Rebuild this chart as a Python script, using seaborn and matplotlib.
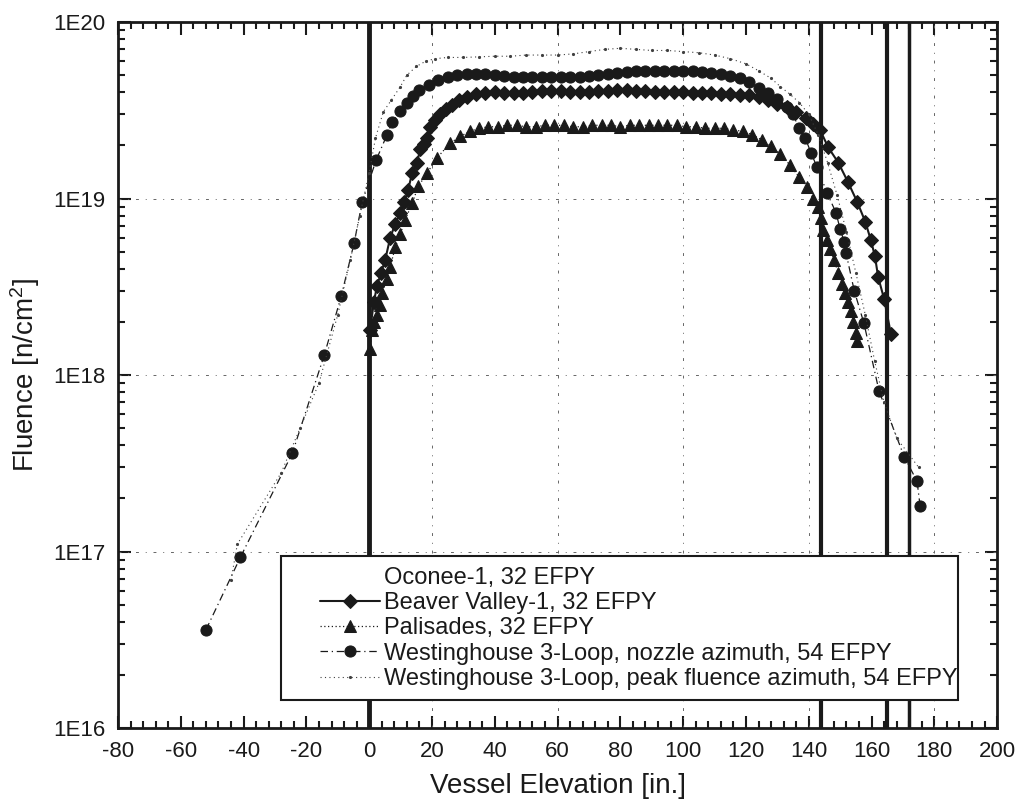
import numpy as np
import seaborn as sns
import matplotlib.pyplot as plt
from matplotlib.lines import Line2D
from matplotlib.legend_handler import HandlerLine2D
from matplotlib.ticker import MultipleLocator, LogLocator, NullFormatter

# Beaver Valley-1, 32 EFPY (diamonds, solid)  -- fluence in units of 1E18
bv_x = [0.3, 1.5, 2.5, 3.8, 5.1, 6.7, 8.3, 9.9, 11.2, 12.4,
        13.7, 15.3, 16.2, 17.4, 18.5, 19.4, 21, 22.6, 24.5, 26.5,
        28.5, 31, 34, 37,
        40, 43, 46, 49, 52, 55, 58, 61, 64, 67,
        70, 73, 76, 79, 82, 85, 88, 91, 94, 97,
        100, 103, 106, 109, 112, 115, 118, 121, 124, 127,
        130, 133, 136, 139,
        141.5, 143.6, 146.2, 149.4, 152.5, 155.4, 158, 159.8, 161.1, 162.1,
        164, 166.2]
bv_y = [1.8, 2.6, 3.2, 3.8, 4.5, 6.0, 7.2, 8.3, 9.6, 11.2,
        14, 16, 19, 20.5, 22, 25.5, 28, 30, 32, 34,
        36, 37.5, 39, 39.5,
        40, 39.5, 39.5, 39.5, 40, 40.5, 40.5, 40.5, 40, 40,
        40, 40.5, 40.5, 41, 41, 40.5, 40.5, 40, 40, 40,
        40, 39.5, 39.5, 39.5, 39, 39, 38.5, 38.5, 37.5, 36,
        34.5, 33, 31, 28.5,
        26.5, 24.5, 19.5, 16, 12.4, 9.6, 7.4, 5.8, 4.7, 3.6,
        2.7, 1.7]

# Palisades, 32 EFPY (triangles)
pal_x = [0.3, 0.8, 1.6, 2.5, 3.3, 4.1, 5.7, 6.7, 8.3, 9.9,
         11.5, 13.7, 15.6, 18.5, 21.6, 25.8, 29, 32, 35, 38,
         41, 44, 47, 50, 53, 56, 59, 62, 65, 68,
         71, 74, 77, 80, 83, 86, 89, 92, 95, 98,
         101, 104, 107, 110, 113, 116, 119, 122, 125, 128,
         131, 134, 137,
         139.5, 141.4, 142.8, 143.8, 144.6, 145.9, 146.8, 148, 149.4, 150.6,
         151.6, 152.5, 153.5, 154.1, 155, 155.4]
pal_y = [1.4, 1.8, 2.0, 2.2, 2.5, 2.9, 3.5, 4.1, 5.3, 6.3,
         7.6, 9.4, 11.7, 14, 17, 20.6, 22.5, 24, 25, 25.5,
         25.5, 26, 26, 25.5, 25.5, 26, 26, 26, 25.5, 25.5,
         26, 26, 26, 25.5, 26, 26, 26, 26, 26, 26,
         25.5, 25.5, 25, 25, 25, 24.5, 24, 23, 21.5, 19.8,
         17.8, 15.5, 13.2,
         11.6, 10, 9.0, 7.8, 6.6, 5.8, 5.2, 4.5, 3.8, 3.3,
         2.9, 2.6, 2.3, 2.0, 1.74, 1.55]

# Westinghouse 3-Loop, nozzle azimuth, 54 EFPY (circles, dash-dot)
noz_x = [-52, -41, -24.5, -14.3, -8.9, -4.8, -2.2, 2.2, 5.7, 7.3,
         9.9, 12, 14, 16, 19, 22, 25, 28, 31, 34,
         37, 40, 43, 46, 49, 52, 55, 58, 61, 64,
         67, 70, 73, 76, 79, 82, 85, 88, 91, 94,
         97, 100, 103, 106, 109, 112, 115, 118, 121, 124,
         127, 130, 133,
         135, 136.9, 138.9, 140.8, 142.7, 145.9, 148.7, 150, 151.3, 151.9,
         154.5, 157.6, 162.4, 170.4, 174.5, 175.5]
noz_y = [0.036, 0.093, 0.36, 1.3, 2.8, 5.6, 9.6, 16.5, 23, 27,
         31.5, 35, 38, 41, 44, 47, 48.5, 50, 50.5, 51,
         51, 50, 49.5, 49, 48.5, 48.5, 48.5, 48.5, 48.5, 49,
         49, 49.5, 50, 50.5, 51.5, 52, 52.5, 52.5, 52.5, 52.5,
         53, 53, 52.5, 52, 51.5, 50.5, 49.5, 48, 45.5, 42.5,
         39.5, 36.5, 33,
         30, 25, 22, 18, 15, 10.7, 8.3, 6.7, 5.7, 4.9,
         3.0, 1.96, 0.81, 0.345, 0.25, 0.18]

# Westinghouse 3-Loop, peak fluence azimuth, 54 EFPY (small dots, dotted)
peak_x = [-44, -42, -28, -22, -16, -10, -6, -3, 0, 2,
          4.5, 7, 9.9, 12, 15, 18, 21, 25, 30, 35,
          40, 45, 50, 55, 60, 65, 70, 75, 80, 85,
          90, 95, 100, 105, 110, 115, 120, 124, 128, 131,
          134, 137, 140, 143, 146, 149, 152, 155, 158, 161,
          164, 168, 175]
peak_y = [0.069, 0.11, 0.28, 0.5, 0.9, 2.2, 4.5, 8, 14, 22,
          31, 36, 43, 50, 56, 60, 62, 63, 63, 63.5,
          64, 64, 65, 65, 65, 66, 68, 70, 71, 70,
          69, 69, 68, 67, 65, 62, 58, 53, 48, 43,
          39, 35, 30, 23, 16, 10.5, 6.5, 3.8, 2.2, 1.2,
          0.7, 0.44, 0.3]

labels = ['Oconee-1, 32 EFPY',
          'Beaver Valley-1, 32 EFPY',
          'Palisades, 32 EFPY',
          'Westinghouse 3-Loop, nozzle azimuth, 54 EFPY',
          'Westinghouse 3-Loop, peak fluence azimuth, 54 EFPY']

solid_lines_x = [0, 144, 165, 172]
solid_lines_w = [3.5, 3.0, 3.0, 2.5]
grid_x = [20, 60, 100, 140, 180]
grid_y = [1e17, 1e18, 1e19]

x_ticks = [-80, -60, -40, -20, 0, 20, 40, 60, 80, 100, 120, 140, 160, 180, 200]
y_ticks = [1e16, 1e17, 1e18, 1e19, 1e20]
y_ticklabels = ['1E16', '1E17', '1E18', '1E19', '1E20']

sns.set_theme(style='ticks')
plt.rcParams['font.family'] = ['Liberation Sans', 'DejaVu Sans']
plt.rcParams['mathtext.default'] = 'regular'
plt.rcParams['text.color'] = 'k'
plt.rcParams['axes.labelcolor'] = 'k'

fig = plt.figure(figsize=(10.21, 8.10), dpi=100)
ax = fig.add_axes([0.1156, 0.1012, 0.861, 0.8716])
ax.set_yscale('log')

for gx in grid_x:
    ax.axvline(gx, color='0.4', lw=0.7, ls=(0, (3, 7, 1, 7)), zorder=1)
for gy in grid_y:
    ax.axhline(gy, color='0.4', lw=0.7, ls=(0, (3, 7, 1, 7)), zorder=1)
for sx, sw in zip(solid_lines_x, solid_lines_w):
    ax.axvline(sx, color='k', lw=sw, zorder=2)

scale = 1e18
sns.lineplot(x=bv_x, y=np.array(bv_y) * scale, ax=ax, color='k', lw=1.5, ls='-',
             marker='D', markersize=7.5, markeredgecolor='k', sort=False,
             estimator=None, label=labels[1], zorder=3)
sns.lineplot(x=pal_x, y=np.array(pal_y) * scale, ax=ax, color='k', lw=0.9, ls=(0, (1, 2)),
             marker='^', markersize=8, markeredgecolor='k', sort=False,
             estimator=None, label=labels[2], zorder=3)
sns.lineplot(x=noz_x, y=np.array(noz_y) * scale, ax=ax, color='k', lw=0.9, ls=(0, (6, 3, 1, 3)),
             marker='o', markersize=8, markeredgecolor='k', sort=False,
             estimator=None, label=labels[3], zorder=3)
sns.lineplot(x=peak_x, y=np.array(peak_y) * scale, ax=ax, color='0.25', lw=0.8, ls=(0, (1, 3)),
             marker='.', markersize=3, markeredgecolor='0.25', sort=False,
             estimator=None, label=labels[4], zorder=3)

ax.set_xlim(-80, 200)
ax.set_ylim(1e16, 1e20)
ax.set_xticks(x_ticks)
ax.set_xticklabels([str(t) for t in x_ticks])
ax.xaxis.set_minor_locator(MultipleLocator(4))
ax.set_yticks(y_ticks)
ax.set_yticklabels(y_ticklabels)
ax.yaxis.set_minor_locator(LogLocator(base=10, subs=(2, 3, 4, 5, 6, 7, 8, 9)))
ax.yaxis.set_minor_formatter(NullFormatter())

ax.tick_params(which='both', direction='in', top=True, right=True, colors='k',
               width=1.5, labelsize=16, pad=9)
ax.tick_params(which='major', length=9)
ax.tick_params(which='minor', length=5)
for sp in ax.spines.values():
    sp.set_linewidth(2)
    sp.set_color('k')

ax.set_xlabel('Vessel Elevation [in.]', fontsize=20, labelpad=8)
ax.set_ylabel('Fluence [n/cm$^2$]', fontsize=20, labelpad=8)

handles, labs = ax.get_legend_handles_labels()
handles = [Line2D([], [], color='none')] + handles
labs = [labels[0]] + labs
leg = ax.legend(handles, labs, loc='lower left', bbox_to_anchor=(0.1718, 0.0227, 0.7975, 0.2223),
                mode='expand', fontsize=17, frameon=True, fancybox=False, framealpha=1,
                edgecolor='k', borderpad=0.44, labelspacing=0.14, handlelength=3.75,
                handletextpad=0.17, handler_map={Line2D: HandlerLine2D(numpoints=1, xpad=1.21)})
leg.get_frame().set_linewidth(1.5)
leg.set_zorder(10)

fig.savefig('out.png', dpi=100)
